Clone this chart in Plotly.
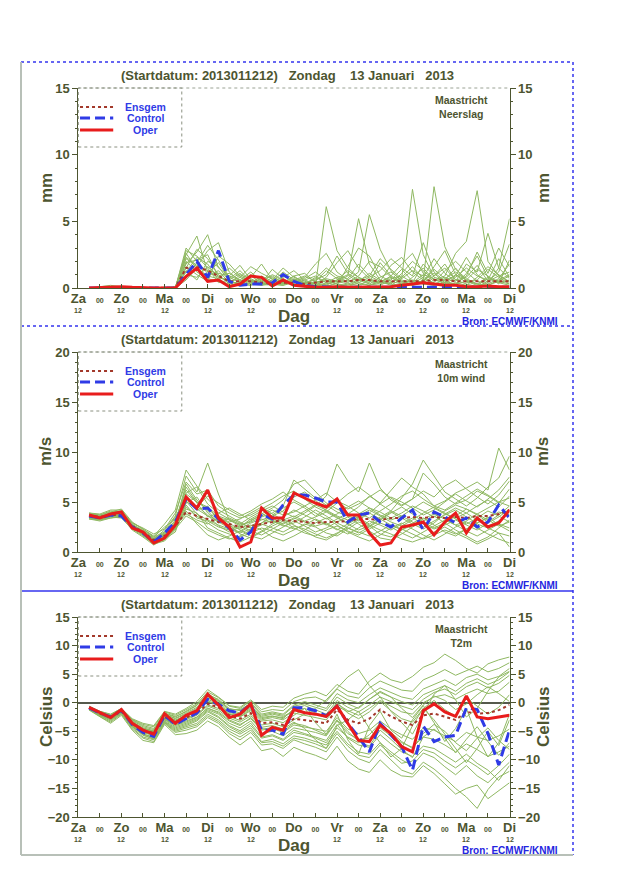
import plotly.graph_objects as go

# the page puts the figure 8px in from the top-left corner
PAGE_W, PAGE_H, BODY = 640, 880, 8
W, H = PAGE_W - BODY, PAGE_H - BODY

# forecast steps, hours after the start 2013-01-12 12 UTC
hours = list(range(6, 241, 6))
tick_hours = list(range(0, 241, 12))
day_names = ["Za", "Zo", "Ma", "Di", "Wo", "Do", "Vr", "Za", "Zo", "Ma", "Di"]

title_text = "(Startdatum: 2013011212)   Zondag    13 Januari   2013"
source_text = "Bron: ECMWF/KNMI"
legend_names = ["Ensgem", "Control", "Oper"]

# --- neerslag (mm)
rain_ensgem = [0, 0.02, 0.05, 0.03, 0, 0, 0, 0, 0.02, 1.5,
               1.6, 1.3, 0.9, 0.5, 0.5, 0.5, 0.4, 0.4, 0.4, 0.4,
               0.3, 0.4, 0.5, 0.5, 0.5, 0.6, 0.6, 0.5, 0.5, 0.5,
               0.5, 0.5, 0.6, 0.6, 0.5, 0.5, 0.5, 0.5, 0.5, 0.5]
rain_control = [0, 0, 0.05, 0.05, 0, 0, 0, 0, 0, 1.0,
                2.0, 0.8, 2.8, 0.5, 0.2, 0.3, 0.3, 0.4, 1.0, 0.5,
                0.2, 0.1, 0.05, 0.05, 0.05, 0.05, 0.05, 0.05, 0, 0,
                0, 0.05, 0.05, 0.05, 0, 0, 0, 0.05, 0.05, 0.05]
rain_oper = [0, 0.05, 0.1, 0.1, 0.05, 0, 0, 0, 0, 0.85,
             1.5, 0.5, 0.6, 0.1, 0.3, 0.9, 0.8, 0.15, 0.6, 0.2,
             0.1, 0.05, 0.05, 0.1, 0.05, 0.05, 0.05, 0.1, 0.1, 0.2,
             0.3, 0.4, 0.3, 0.2, 0.2, 0.1, 0.1, 0.15, 0.1, 0.1]
rain_members = [
    [0, 0.1, 0.2, 0.1, 0, 0, 0, 0, 0, 2.5, 3.9, 1.2, 0.8, 0.5, 0.3, 0.6, 0.4, 0.2, 0.5, 0.3,
     0.1, 0.2, 0.6, 0.3, 0.1, 0.4, 0.2, 0.5, 0.8, 0.3, 0.2, 0.6, 1.1, 0.4, 0.3, 0.5, 0.2, 0.7, 0.4, 0.6],
    [0, 0, 0.1, 0.1, 0, 0, 0, 0, 0, 1.8, 2.7, 4.0, 1.5, 0.9, 0.6, 1.2, 0.5, 0.3, 0.2, 0.6,
     0.4, 0.2, 6.1, 2.8, 1.5, 0.8, 0.3, 0.2, 0.6, 1.4, 0.5, 0.3, 0.2, 0.4, 1.0, 0.6, 0.3, 0.2, 0.5, 0.9],
    [0, 0, 0, 0, 0, 0, 0, 0, 0.1, 2.2, 1.6, 2.8, 3.4, 1.2, 0.5, 0.8, 1.8, 0.6, 0.4, 0.3,
     0.2, 0.1, 0.3, 0.5, 0.9, 5.2, 1.8, 0.6, 0.3, 0.2, 0.8, 1.5, 0.6, 0.4, 0.2, 1.1, 2.4, 0.8, 0.5, 0.3],
    [0, 0, 0, 0, 0, 0, 0, 0, 0, 1.2, 2.3, 1.8, 0.6, 1.5, 0.8, 0.4, 0.9, 0.5, 1.2, 0.6,
     0.3, 0.2, 0.1, 0.4, 0.6, 1.2, 5.5, 2.9, 1.3, 0.5, 0.2, 0.4, 0.9, 1.8, 0.6, 0.3, 0.1, 0.5, 1.2, 3.3],
    [0, 0, 0, 0, 0, 0, 0, 0, 0, 3.0, 2.0, 1.1, 1.9, 0.7, 1.3, 0.5, 0.3, 0.8, 0.4, 0.9,
     1.1, 0.4, 0.2, 0.1, 0.3, 0.6, 0.9, 2.2, 1.4, 0.7, 7.4, 2.5, 0.8, 0.6, 1.5, 0.5, 0.3, 0.8, 0.4, 0.2],
    [0, 0, 0, 0, 0, 0, 0, 0, 0, 2.6, 1.4, 0.9, 1.3, 0.4, 0.8, 1.6, 1.1, 0.7, 0.3, 0.5,
     0.8, 1.8, 2.6, 1.2, 0.6, 0.3, 0.2, 0.5, 1.7, 2.3, 1.2, 0.6, 7.6, 3.1, 1.4, 0.7, 0.3, 0.2, 0.6, 1.0],
    [0, 0, 0, 0, 0, 0, 0, 0, 0, 1.5, 2.9, 2.2, 1.0, 0.3, 0.5, 1.0, 0.6, 0.2, 0.8, 1.3,
     0.6, 0.3, 0.8, 1.9, 2.8, 1.5, 0.7, 0.4, 0.3, 1.1, 2.0, 1.3, 0.6, 0.9, 2.6, 3.5, 7.3, 2.0, 0.9, 0.5],
    [0, 0, 0, 0, 0, 0, 0, 0, 0, 0.8, 1.9, 3.2, 2.1, 0.8, 0.4, 0.2, 0.5, 1.0, 0.6, 0.2,
     0.1, 0.5, 1.3, 0.7, 0.4, 0.9, 2.0, 1.6, 0.8, 0.4, 0.3, 0.8, 2.2, 1.1, 0.5, 1.8, 1.2, 4.1, 1.5, 5.2],
    [0, 0, 0, 0, 0, 0, 0, 0, 0, 2.0, 1.2, 0.7, 0.5, 0.3, 1.0, 0.7, 0.3, 0.4, 0.9, 0.5,
     0.3, 0.8, 0.4, 0.2, 1.6, 3.0, 2.4, 0.9, 0.5, 0.3, 0.6, 0.4, 1.6, 2.8, 1.0, 0.4, 0.6, 1.4, 0.8, 0.3],
    [0, 0, 0, 0, 0, 0, 0, 0, 0, 1.0, 0.8, 1.6, 0.9, 1.1, 0.6, 0.3, 0.2, 0.6, 1.5, 0.8,
     0.5, 0.3, 0.2, 0.6, 1.0, 0.4, 0.8, 1.3, 2.2, 1.5, 0.9, 3.4, 1.2, 0.5, 0.3, 0.9, 2.7, 1.1, 3.0, 1.6],
    [0, 0, 0, 0, 0, 0, 0, 0, 0, 2.8, 2.4, 1.5, 0.4, 0.6, 0.2, 0.4, 0.7, 0.3, 0.2, 0.4,
     0.7, 1.2, 0.6, 0.3, 0.2, 0.5, 1.1, 0.6, 0.4, 0.8, 1.6, 0.7, 0.4, 1.3, 2.0, 1.2, 0.5, 0.3, 0.7, 1.8],
    [0, 0, 0, 0, 0, 0, 0, 0, 0, 1.6, 1.0, 0.5, 2.4, 1.8, 0.9, 0.5, 0.3, 0.2, 0.3, 0.7,
     0.4, 0.6, 1.0, 2.4, 1.1, 0.6, 0.3, 0.8, 1.2, 0.6, 0.4, 1.0, 0.7, 0.3, 0.8, 1.5, 0.9, 0.6, 2.2, 0.8],
    [0, 0, 0, 0, 0, 0, 0, 0, 0, 0.6, 1.5, 0.9, 0.7, 0.2, 0.4, 0.9, 0.4, 1.4, 0.7, 0.3,
     0.2, 0.4, 0.7, 0.5, 0.3, 0.2, 0.6, 0.4, 0.9, 1.8, 2.6, 1.1, 0.5, 0.8, 0.4, 0.2, 0.8, 1.6, 1.0, 0.4],
    [0, 0, 0, 0, 0, 0, 0, 0, 0, 2.3, 1.7, 1.3, 1.1, 0.9, 1.7, 0.6, 0.2, 0.3, 0.5, 0.2,
     0.6, 0.9, 0.4, 0.8, 0.5, 0.7, 0.4, 1.9, 0.9, 0.5, 0.3, 0.5, 1.4, 0.7, 1.2, 0.6, 1.4, 0.9, 0.3, 2.1],
    [0, 0, 0, 0, 0, 0, 0, 0, 0, 1.3, 0.6, 2.0, 1.6, 0.5, 0.3, 0.2, 0.8, 0.4, 0.3, 0.9,
     0.3, 0.7, 1.5, 0.9, 0.7, 1.8, 0.9, 0.5, 0.2, 0.7, 1.3, 0.9, 0.3, 0.6, 0.9, 2.3, 1.0, 0.4, 1.5, 0.7],
    [0, 0, 0, 0, 0, 0, 0, 0, 0, 1.9, 2.1, 2.5, 0.8, 0.6, 1.1, 0.3, 0.6, 0.9, 0.4, 0.6,
     0.9, 0.5, 0.3, 0.6, 1.3, 0.8, 0.5, 0.3, 0.7, 0.9, 0.4, 1.8, 0.9, 1.5, 0.6, 0.8, 1.7, 0.5, 0.9, 1.2],
]

# --- 10m wind (m/s)
wind_ensgem = [3.6, 3.5, 3.7, 3.7, 2.6, 2.0, 1.2, 1.6, 2.6, 4.0,
               3.6, 3.3, 3.0, 2.8, 2.5, 2.6, 2.8, 3.0, 3.2, 3.1,
               3.0, 2.9, 3.0, 3.0, 3.1, 3.3, 3.3, 3.2, 3.4, 3.4,
               3.5, 3.4, 3.5, 3.4, 3.5, 3.4, 3.6, 3.6, 3.8, 4.2]
wind_control = [3.6, 3.4, 3.7, 3.6, 2.5, 1.9, 1.0, 1.9, 3.0, 5.3,
                4.3, 4.4, 3.3, 2.4, 1.2, 2.0, 3.8, 3.3, 4.7, 5.7,
                5.7, 5.4, 5.0, 5.0, 3.0, 3.7, 3.9, 3.0, 2.5, 3.4,
                4.2, 2.2, 4.0, 3.5, 2.9, 3.4, 2.5, 3.0, 4.7, 3.4]
wind_oper = [3.7, 3.4, 3.8, 4.0, 2.4, 2.0, 0.9, 1.4, 2.7, 5.5,
             4.4, 6.2, 3.4, 2.5, 0.5, 1.0, 4.4, 3.4, 3.4, 5.9,
             5.4, 4.9, 4.5, 5.3, 3.7, 3.7, 1.9, 0.7, 0.9, 2.5,
             2.7, 3.0, 1.7, 3.0, 3.9, 1.9, 3.4, 2.5, 2.9, 4.2]
wind_members = [
    [3.8, 3.6, 3.9, 4.1, 2.8, 2.1, 1.3, 2.2, 3.6, 7.6, 6.0, 8.9, 5.8, 3.2, 2.6, 3.1, 3.8, 4.4, 5.2, 6.8,
     7.2, 6.1, 4.9, 4.3, 3.8, 4.5, 5.6, 4.9, 6.2, 7.4, 6.5, 5.8, 4.6, 5.1, 5.9, 6.4, 7.0, 6.2, 10.4, 8.2],
    [3.5, 3.3, 3.6, 3.8, 2.5, 1.8, 0.9, 1.4, 2.9, 6.8, 5.2, 4.1, 3.0, 2.4, 2.0, 2.6, 3.2, 3.6, 4.1, 5.5,
     6.0, 5.2, 4.1, 3.5, 2.8, 2.2, 2.6, 3.3, 4.0, 3.4, 2.8, 2.3, 2.9, 3.8, 4.4, 3.9, 3.2, 2.6, 3.1, 4.0],
    [3.9, 3.7, 4.0, 4.3, 3.0, 2.3, 1.6, 2.8, 4.2, 8.2, 6.6, 5.3, 4.2, 3.6, 3.0, 2.4, 2.9, 3.4, 2.8, 3.3,
     3.9, 4.6, 5.6, 8.8, 7.1, 6.0, 8.9, 6.4, 5.2, 4.6, 5.3, 7.9, 6.8, 5.5, 4.8, 5.2, 6.1, 5.6, 4.9, 6.3],
    [3.4, 3.2, 3.5, 3.4, 2.3, 1.6, 0.8, 1.1, 2.2, 4.5, 3.6, 2.9, 2.2, 1.8, 1.5, 1.9, 2.4, 2.1, 1.7, 2.2,
     2.8, 2.5, 1.9, 1.6, 2.3, 3.0, 2.6, 1.8, 1.5, 2.2, 2.9, 3.4, 2.7, 2.0, 1.6, 2.3, 2.9, 3.5, 2.7, 2.1],
    [3.6, 3.5, 3.8, 3.9, 2.7, 2.2, 1.5, 2.5, 3.3, 5.9, 6.5, 4.8, 3.9, 3.3, 2.7, 3.0, 3.5, 3.9, 4.6, 7.2,
     6.3, 5.4, 4.7, 4.0, 3.6, 3.2, 3.9, 4.8, 5.5, 5.0, 4.4, 3.7, 4.2, 5.0, 5.8, 5.1, 4.5, 5.3, 6.2, 7.5],
    [3.7, 3.4, 3.6, 3.6, 2.6, 2.0, 1.1, 1.7, 2.6, 3.8, 3.2, 2.8, 3.4, 2.9, 2.2, 1.6, 1.3, 1.9, 2.5, 3.1,
     2.6, 2.0, 2.4, 3.0, 3.5, 2.8, 2.1, 1.4, 1.2, 1.8, 2.5, 3.1, 3.6, 2.9, 2.2, 1.6, 1.0, 1.5, 2.4, 3.2],
    [3.3, 3.1, 3.4, 3.5, 2.2, 1.5, 0.7, 1.3, 2.0, 5.0, 4.6, 3.7, 2.6, 2.0, 2.5, 3.3, 3.9, 3.1, 2.6, 2.9,
     3.5, 4.2, 3.6, 2.9, 2.4, 1.9, 2.5, 3.2, 3.9, 4.5, 3.8, 3.0, 2.4, 2.9, 3.6, 4.3, 3.7, 3.0, 3.7, 4.6],
    [3.8, 3.7, 4.1, 4.0, 2.9, 2.4, 1.8, 2.3, 3.9, 7.0, 5.8, 6.2, 4.6, 3.9, 3.4, 3.7, 4.3, 4.9, 5.6, 6.1,
     5.3, 4.5, 4.0, 4.9, 5.8, 6.5, 5.7, 4.8, 4.1, 5.4, 6.8, 9.2, 7.6, 6.0, 5.3, 4.6, 5.4, 6.5, 7.4, 9.6],
    [3.5, 3.3, 3.7, 3.6, 2.4, 1.9, 1.0, 1.5, 2.4, 4.1, 2.8, 1.7, 1.2, 1.6, 2.1, 2.7, 2.2, 1.5, 1.1, 1.6,
     2.2, 2.9, 3.4, 2.7, 2.0, 1.5, 1.1, 1.7, 2.4, 2.9, 2.3, 1.7, 1.2, 1.8, 2.5, 3.0, 2.4, 1.8, 1.3, 0.9],
    [3.6, 3.6, 3.9, 3.8, 2.6, 2.1, 1.4, 1.9, 3.1, 6.2, 4.9, 3.5, 3.9, 4.4, 3.8, 3.2, 3.6, 4.2, 3.7, 4.0,
     4.6, 3.9, 3.3, 3.8, 4.5, 5.1, 4.4, 3.7, 3.2, 3.6, 4.3, 5.0, 4.4, 3.8, 3.4, 3.9, 4.6, 5.2, 4.5, 5.6],
    [3.4, 3.3, 3.5, 3.7, 2.5, 1.7, 0.9, 1.2, 2.6, 5.6, 4.2, 4.6, 3.1, 2.7, 1.8, 1.4, 2.0, 2.6, 3.1, 2.4,
     1.9, 1.6, 2.2, 2.6, 2.1, 1.7, 2.3, 2.9, 2.5, 1.9, 1.4, 2.0, 2.6, 3.2, 2.7, 2.1, 1.6, 2.2, 2.8, 2.4],
    [3.7, 3.5, 3.8, 3.9, 2.7, 2.0, 1.2, 1.8, 2.8, 4.9, 5.5, 3.9, 2.9, 3.4, 2.9, 2.4, 2.9, 3.7, 4.4, 5.0,
     4.4, 3.6, 4.3, 5.1, 4.6, 3.9, 3.4, 4.1, 4.8, 5.6, 6.1, 5.3, 4.6, 4.2, 4.9, 5.6, 6.3, 5.7, 5.0, 5.4],
    [3.6, 3.4, 3.7, 3.8, 2.6, 2.1, 1.3, 1.6, 2.3, 4.3, 3.9, 2.4, 1.9, 1.4, 1.0, 1.5, 2.1, 2.8, 3.3, 2.7,
     2.1, 1.5, 1.2, 1.8, 2.6, 3.2, 2.7, 2.2, 1.8, 1.3, 1.0, 1.4, 2.0, 2.5, 1.9, 1.4, 0.8, 1.3, 1.9, 0.5],
    [3.5, 3.6, 3.8, 3.5, 2.6, 1.9, 1.1, 1.7, 3.0, 6.5, 5.0, 4.3, 3.5, 3.0, 3.3, 3.9, 4.5, 3.8, 3.2, 3.6,
     3.1, 3.5, 4.0, 3.4, 2.9, 3.6, 4.2, 3.6, 3.0, 2.6, 3.2, 3.9, 4.5, 3.9, 3.3, 2.8, 3.4, 4.1, 3.6, 3.0],
    [3.9, 3.8, 4.2, 4.2, 2.9, 2.3, 1.5, 2.0, 3.5, 5.4, 4.5, 5.6, 4.9, 4.2, 3.6, 4.1, 4.8, 5.3, 6.0, 5.2,
     4.6, 5.2, 5.9, 5.0, 4.3, 4.8, 5.5, 6.2, 5.4, 4.7, 5.3, 6.1, 5.5, 6.6, 7.2, 6.3, 5.5, 4.8, 5.7, 7.1],
    [3.3, 3.2, 3.4, 3.6, 2.4, 1.8, 1.0, 1.4, 2.5, 4.7, 3.4, 3.1, 2.5, 2.2, 2.6, 2.1, 1.7, 2.3, 2.9, 3.4,
     3.0, 2.6, 2.9, 2.3, 1.8, 2.4, 3.1, 2.7, 2.2, 2.8, 3.4, 2.8, 2.3, 2.7, 3.2, 2.7, 2.2, 2.9, 3.5, 4.3],
    [3.7, 3.5, 3.8, 3.8, 2.6, 2.0, 1.2, 1.9, 3.2, 5.6, 4.3, 3.6, 3.1, 2.6, 2.3, 2.9, 3.3, 2.9, 3.5, 4.2,
     3.7, 3.2, 2.7, 3.3, 3.9, 3.4, 2.8, 3.5, 4.1, 3.6, 3.0, 2.5, 3.1, 3.7, 4.2, 3.5, 2.9, 3.4, 4.0, 3.7],
    [3.5, 3.4, 3.6, 3.7, 2.5, 1.9, 1.1, 1.5, 2.7, 5.1, 3.8, 3.2, 2.7, 2.3, 1.9, 2.3, 2.7, 3.2, 2.7, 2.3,
     2.7, 3.3, 2.8, 2.2, 2.8, 3.4, 3.9, 3.3, 2.7, 2.2, 2.7, 3.3, 3.8, 3.3, 2.7, 3.1, 3.8, 3.2, 2.6, 3.0],
    [3.6, 3.5, 3.9, 3.8, 2.7, 2.1, 1.3, 1.8, 2.9, 5.8, 5.0, 4.5, 3.6, 3.2, 2.8, 3.5, 4.1, 4.6, 4.0, 3.5,
     4.1, 4.7, 4.2, 3.6, 3.2, 3.8, 4.4, 4.0, 3.4, 3.9, 4.6, 4.1, 3.5, 4.1, 4.7, 4.3, 3.8, 4.4, 5.0, 4.6],
    [3.4, 3.3, 3.6, 3.6, 2.4, 1.7, 0.9, 1.3, 2.3, 3.6, 3.0, 2.2, 1.7, 1.3, 1.6, 2.2, 2.8, 2.4, 2.0, 2.6,
     2.3, 1.8, 1.4, 1.9, 2.4, 2.0, 1.6, 2.1, 2.7, 2.3, 1.8, 1.3, 1.7, 2.2, 1.8, 2.3, 2.8, 2.4, 1.9, 1.6],
]

# --- T2m (Celsius)
temp_ensgem = [-0.9, -1.9, -2.6, -1.5, -3.6, -4.8, -5.3, -2.5, -3.4, -2.6,
               -1.8, -0.2, -0.8, -2.2, -2.8, -1.8, -3.6, -3.4, -3.9, -2.8,
               -3.0, -3.3, -3.6, -1.2, -3.0, -3.6, -2.8, -1.2, -2.4, -3.3,
               -3.9, -2.2, -1.9, -2.5, -3.0, -1.6, -1.9, -1.8, -1.3, -0.4]
temp_control = [-0.9, -1.8, -2.5, -1.3, -3.8, -5.2, -5.9, -2.2, -3.8, -2.8,
                -1.8, 0.6, -0.3, -1.4, -1.8, -0.3, -4.8, -4.8, -5.5, -0.9,
                -0.9, -1.4, -2.3, -0.6, -3.6, -6.0, -8.6, -3.6, -5.7, -7.7,
                -11.8, -4.1, -6.8, -6.0, -5.7, -0.9, -1.2, -5.4, -10.9, -4.8]
temp_oper = [-0.8, -1.75, -2.6, -1.2, -3.6, -4.8, -5.5, -1.9, -3.6, -2.2,
             -1.4, 1.5, -0.4, -2.6, -2.0, -0.2, -5.7, -4.3, -4.8, -1.2,
             -1.75, -2.0, -2.4, -0.6, -3.6, -6.6, -6.8, -3.9, -5.4, -7.7,
             -8.6, -1.4, -0.2, -1.6, -2.4, 1.2, -2.5, -2.8, -2.5, -2.2]
temp_members = [
    [-0.6, -1.5, -2.0, -1.0, -2.8, -3.6, -4.0, -1.5, -2.0, -1.0, 0.2, 2.3, 1.0, -0.5, -0.8, 0.5, -1.2, -0.6, -0.8, 0.8,
     1.5, 2.0, 1.2, 3.2, 2.0, 1.5, 3.8, 5.2, 4.0, 3.5, 4.6, 6.2, 7.0, 8.5, 7.4, 6.0, 5.2, 6.8, 7.5, 8.0],
    [-1.2, -2.4, -3.4, -2.0, -4.6, -6.2, -6.8, -3.6, -5.2, -4.8, -4.2, -2.6, -3.6, -5.4, -6.5, -5.2, -7.4, -7.2, -8.0, -6.5,
     -7.2, -7.8, -8.6, -6.0, -8.4, -9.8, -10.5, -8.2, -10.0, -11.8, -12.5, -10.4, -11.6, -13.2, -15.0, -16.5, -18.5, -15.2, -13.0, -12.0],
    [-0.8, -1.8, -2.4, -1.3, -3.2, -4.5, -5.0, -2.0, -2.8, -2.0, -1.0, 0.8, 0.2, -1.5, -2.0, -0.8, -2.6, -2.3, -2.8, -1.0,
     -0.5, -1.2, -2.0, 0.4, -0.8, -1.6, -0.4, 1.0, 0.2, -0.6, -1.2, 0.6, 1.8, 2.4, 1.4, 2.8, 3.6, 2.6, 3.4, 4.8],
    [-1.0, -2.1, -2.9, -1.8, -4.2, -5.5, -6.0, -3.2, -4.4, -3.8, -3.0, -1.4, -2.4, -4.0, -4.9, -3.6, -6.0, -5.6, -6.4, -4.8,
     -5.4, -6.0, -6.6, -3.8, -6.2, -7.4, -7.8, -5.6, -7.2, -8.6, -9.4, -7.6, -8.0, -9.2, -10.4, -9.0, -10.6, -11.8, -13.6, -11.0],
    [-0.9, -1.7, -2.5, -1.4, -3.5, -4.6, -5.2, -2.2, -3.0, -2.4, -1.6, 0.2, -0.4, -1.9, -2.5, -1.4, -3.2, -3.0, -3.5, -2.2,
     -1.0, -3.5, -5.5, -2.0, -6.5, -9.0, -4.0, -1.5, -4.8, -6.2, -3.0, -0.5, -3.5, -6.8, -4.5, -1.0, -6.0, -9.5, -7.0, -2.0],
    [-1.1, -2.0, -2.8, -1.6, -3.9, -5.2, -5.8, -2.9, -3.9, -3.2, -2.5, -1.0, -1.6, -3.0, -3.8, -2.8, -4.8, -4.5, -5.2, -3.9,
     -4.2, -4.6, -5.0, -2.6, -4.6, -5.4, -4.8, -3.2, -4.6, -5.6, -6.4, -4.4, -4.8, -5.8, -6.8, -5.2, -6.0, -6.6, -5.8, -4.6],
    [-0.7, -1.6, -2.2, -1.1, -3.0, -4.0, -4.5, -1.8, -2.4, -1.6, -0.5, 1.4, 0.6, -1.0, -1.4, 0.0, -2.0, -1.6, -2.0, -0.4,
     0.2, -0.4, -1.0, 1.6, 0.5, 0.0, 1.4, 2.6, 1.8, 1.0, 0.6, 2.4, 3.2, 4.0, 3.0, 4.4, 5.0, 4.0, 4.6, 6.0],
    [-1.0, -2.2, -3.0, -1.7, -4.0, -5.6, -6.4, -3.4, -4.8, -4.2, -3.6, -2.0, -3.0, -4.6, -5.5, -4.4, -6.8, -6.4, -7.2, -5.8,
     -6.2, -6.8, -7.4, -5.0, -7.2, -8.6, -9.0, -7.0, -8.6, -10.0, -11.0, -8.8, -9.6, -11.2, -12.6, -11.0, -12.8, -14.0, -12.2, -10.4],
    [-0.8, -1.9, -2.7, -1.5, -3.7, -4.9, -5.4, -2.6, -3.5, -2.8, -2.0, -0.4, -1.0, -2.4, -3.1, -2.0, -3.9, -3.6, -4.2, -3.0,
     -2.0, -1.0, 0.5, 2.5, 4.5, 5.8, 3.0, 1.0, -1.5, -3.5, -5.5, -2.0, 1.5, 3.0, 0.5, -2.5, -1.0, 2.0, 4.5, 5.5],
    [-0.9, -1.8, -2.6, -1.4, -3.4, -4.4, -4.9, -2.1, -2.7, -1.8, -0.8, 1.0, 0.4, -1.2, -1.8, -0.6, -2.4, -2.0, -2.4, -1.4,
     -1.6, -2.0, -2.6, -0.2, -1.4, -2.2, -1.0, 0.4, -0.6, -1.6, -2.0, 0.0, 1.0, 1.4, 0.6, 1.6, 2.4, 1.6, 2.0, 3.6],
    [-1.0, -2.0, -2.7, -1.6, -3.8, -5.0, -5.6, -2.7, -3.7, -3.0, -2.2, -0.6, -1.3, -2.7, -3.4, -2.3, -4.3, -4.0, -4.6, -3.4,
     -4.5, -6.5, -8.0, -4.0, -3.0, -1.5, -4.5, -7.0, -9.5, -8.0, -4.0, -1.0, -3.0, -5.5, -8.0, -10.5, -8.0, -5.0, -7.5, -3.0],
    [-1.3, -2.5, -3.6, -2.2, -4.8, -6.6, -7.0, -3.8, -5.6, -5.4, -4.8, -3.2, -4.2, -6.0, -7.4, -6.0, -8.4, -8.0, -9.4, -7.8,
     -8.6, -9.2, -10.0, -7.6, -10.2, -11.6, -12.2, -10.0, -11.8, -12.8, -13.0, -11.0, -12.4, -14.2, -16.0, -15.0, -14.4, -16.8, -15.4, -14.0],
    [-0.7, -1.5, -2.1, -1.0, -2.9, -3.8, -4.2, -1.6, -2.2, -1.2, -0.2, 1.9, 0.9, -0.6, -1.0, 0.3, -1.6, -1.2, -1.4, 0.2,
     0.8, 1.0, 0.2, 2.4, 1.2, 0.8, 2.6, 3.8, 3.0, 2.2, 2.0, 4.0, 4.8, 5.8, 4.8, 5.6, 6.4, 5.4, 6.0, 7.0],
    [-1.1, -2.2, -2.9, -1.7, -4.1, -5.4, -6.2, -3.0, -4.2, -3.6, -2.8, -1.2, -2.0, -3.6, -4.4, -3.2, -5.4, -5.0, -5.8, -4.4,
     -4.8, -5.2, -5.8, -3.2, -5.4, -6.4, -6.2, -4.4, -5.8, -7.0, -7.8, -6.0, -6.4, -7.4, -8.6, -7.2, -8.2, -9.4, -8.6, -7.6],
    [-0.8, -1.7, -2.3, -1.2, -3.1, -4.2, -4.7, -1.9, -2.5, -1.4, -0.4, 1.6, 0.4, -1.2, -1.2, -0.2, -2.2, -1.8, -2.2, -0.6,
     -0.2, -0.8, -1.4, 1.0, -0.2, -1.0, 0.6, 1.8, 1.0, 0.2, -0.4, 1.4, 2.2, 3.0, 2.0, 3.4, 4.2, 3.2, 4.0, 5.4],
    [-1.2, -2.3, -3.2, -1.9, -4.4, -6.0, -6.5, -3.5, -5.0, -4.5, -3.9, -2.3, -3.3, -5.0, -6.0, -4.8, -7.0, -6.8, -7.6, -6.2,
     -6.6, -7.2, -8.0, -5.4, -7.6, -9.2, -9.6, -7.4, -9.0, -10.6, -10.2, -8.2, -8.8, -10.2, -11.4, -10.0, -11.2, -12.6, -11.0, -9.0],
    [-0.9, -1.9, -2.7, -1.4, -3.6, -4.7, -5.1, -2.3, -3.2, -2.3, -1.4, 0.4, -0.6, -2.0, -2.4, -1.2, -3.0, -2.6, -3.0, -1.8,
     -2.2, -2.6, -3.0, -0.6, -1.6, -0.8, 0.6, 2.0, 1.0, -1.0, -2.6, -0.4, 1.2, 0.4, -1.2, -0.2, 1.4, 2.8, 1.6, 0.2],
    [-1.0, -2.0, -2.8, -1.7, -3.9, -5.1, -5.7, -2.8, -4.0, -3.4, -2.6, -0.9, -1.8, -3.2, -4.0, -2.6, -4.6, -4.4, -5.0, -3.6,
     -4.0, -4.8, -5.6, -3.0, -5.0, -6.8, -7.6, -4.8, -6.4, -8.2, -9.6, -6.0, -4.6, -6.2, -8.8, -6.4, -4.2, -6.8, -9.2, -7.0],
    [-0.8, -1.8, -2.5, -1.3, -3.4, -4.5, -5.0, -2.2, -3.1, -2.2, -1.3, 0.6, -0.2, -1.7, -2.2, -1.0, -2.8, -2.4, -2.6, -1.4,
     -1.0, -1.8, -2.4, 0.0, -1.8, -2.8, -1.6, 0.2, -1.4, -2.8, -3.4, -1.0, 0.4, -1.2, -2.4, 0.8, -0.6, -2.0, -0.8, 1.4],
    [-1.1, -2.1, -3.0, -1.8, -4.2, -5.7, -6.3, -3.3, -4.6, -4.0, -3.2, -1.6, -2.6, -4.2, -5.2, -4.0, -6.2, -5.8, -6.6, -5.2,
     -5.6, -6.2, -7.0, -4.4, -6.0, -7.0, -5.6, -3.6, -5.2, -6.8, -8.0, -5.4, -3.8, -5.0, -7.0, -8.4, -6.2, -4.4, -6.6, -8.2],
]

# colours
DARK = "#4d5530"
GREEN = "#8fb862"
RED = "#e81c1c"
BLUE = "#2f3be6"
ENS = "#a3382a"
FRAME_BLUE = "#3434ee"
FRAME_GREY = "#b8c0b8"
FONT = "Liberation Sans, Arial, sans-serif"

# pixel geometry of the page (plot area left/right, top of each plot area)
X0, X1 = 78.3, 509.5
PLOT_H = 200
tops = [88, 352, 617]


def px(x):
    return (x - BODY) / W


def py(y):
    return 1 - (y - BODY) / H


nb = lambda s: s.replace(" ", "\u00a0")

# day names at 12 UTC, "00" at midnight
tick_text = [day_names[h // 24] if h % 24 == 0 else "<span style='font-size:7px'>00</span>" for h in tick_hours]

fig = go.Figure()


def note(text, x, y, size, color=DARK, bold=True, **kw):
    # page text placed in page pixels, always centred on the point
    fig.add_annotation(text=text, xref="paper", yref="paper", x=px(x), y=py(y), showarrow=False,
                       xanchor="center", yanchor="middle",
                       font=dict(family=FONT, size=size, color=color, weight="bold" if bold else "normal"), **kw)  # fmt: off


def add_panel(k, top, members, ensgem, control, oper, yrange, ytitle, station, zero=False):
    xid = "x" if k == 1 else f"x{k}"
    yid = "y" if k == 1 else f"y{k}"
    yrid = f"y{k + 3}"

    # --members
    for m in members:
        fig.add_trace(go.Scatter(x=hours[:len(m)], y=m, mode="lines", line=dict(color=GREEN, width=1),
                                 xaxis=xid, yaxis=yid, showlegend=False, hoverinfo="skip"))  # fmt: off
    # --ensgem, control, oper
    fig.add_trace(go.Scatter(x=hours, y=ensgem, name="Ensgem", mode="lines", line=dict(color=ENS, width=2, dash="dot"), xaxis=xid, yaxis=yid))  # fmt: off
    fig.add_trace(go.Scatter(x=hours, y=control, name="Control", mode="lines", line=dict(color=BLUE, width=3, dash="10px,5px"), xaxis=xid, yaxis=yid))  # fmt: off
    fig.add_trace(go.Scatter(x=hours, y=oper, name="Oper", mode="lines", line=dict(color=RED, width=3), xaxis=xid, yaxis=yid))  # fmt: off
    # empty trace so the right axis is drawn
    fig.add_trace(go.Scatter(x=[], y=[], xaxis=xid, yaxis=yrid, showlegend=False, hoverinfo="skip"))

    ydom = [py(top + PLOT_H), py(top)]
    tickfont = dict(family=FONT, size=13, color=DARK, weight="bold")
    yax = dict(domain=ydom, anchor=xid, range=yrange, dtick=5, tick0=0, showgrid=False, automargin=False,
               showline=True, linecolor=DARK, linewidth=1, ticks="outside", ticklen=5, tickcolor=DARK,
               minor=dict(dtick=1, ticks="outside", ticklen=2, tickcolor=DARK),
               tickfont=tickfont, zeroline=zero, zerolinecolor="#55594c", zerolinewidth=2)
    yrax = dict(yax, overlaying=yid, side="right", zeroline=False)
    yrax.pop("domain")
    xax = dict(domain=[px(X0), px(X1)], anchor=yid, range=[0, 240], tickmode="array", automargin=False,
               tickvals=tick_hours, ticktext=tick_text, showgrid=False, zeroline=False,
               showline=True, linecolor=DARK, linewidth=1, ticks="inside", ticklen=4, tickcolor=DARK,
               tickfont=tickfont, tickangle=0, ticklabelstandoff=-2)

    fig.layout["xaxis" if k == 1 else f"xaxis{k}"] = xax
    fig.layout["yaxis" if k == 1 else f"yaxis{k}"] = yax
    fig.layout[f"yaxis{k + 3}"] = yrax

    xd = "x domain" if k == 1 else f"x{k} domain"
    yd = "y domain" if k == 1 else f"y{k} domain"

    # small "12" under each day name (not under Do, where "Dag" sits)
    for h in tick_hours[::2]:
        if h != 120:
            fig.add_annotation(text="12", xref=xid, yref="paper", x=h, y=py(top + PLOT_H + 22.5), showarrow=False,
                               xanchor="center", yanchor="middle", borderpad=0,
                               font=dict(family=FONT, size=7, color=DARK, weight="bold"))  # fmt: off

    # dotted top edge of the plot area and the legend box
    fig.add_shape(type="line", xref=xd, yref=yd, x0=0, x1=1, y0=1, y1=1, line=dict(color="#9aa294", width=1, dash="dot"))  # fmt: off
    fig.add_shape(type="rect", xref=xd, yref=yd, x0=0, x1=0.24, y0=0.705, y1=1, line=dict(color="#8a9080", width=1, dash="dot"))  # fmt: off

    # legend samples and labels
    styles = [dict(color=ENS, width=2, dash="dot"), dict(color=BLUE, width=3, dash="10px,5px"), dict(color=RED, width=3)]
    for j, (name, st) in enumerate(zip(legend_names, styles)):
        yy = [0.905, 0.85, 0.79][j]
        fig.add_shape(type="line", xref=xd, yref=yd, x0=0.004, x1=0.081, y0=yy, y1=yy, line=st)
        fig.add_annotation(text=name, xref=xd, yref=yd, x=0.157, y=yy, showarrow=False, xanchor="center", yanchor="middle",
                           font=dict(family=FONT, size=10.5, color=BLUE, weight="bold"))  # fmt: off

    # texts around the panel
    note(nb(title_text), 287, top - 13, 13)
    note(station, 461, top + 18.5, 10.5, align="center")
    note(source_text, 510, top + 233, 10, color="#2424e0", borderpad=0)
    note("Dag", 294, top + 228, 17, borderpad=0)
    note(ytitle, 46, top + 100, 17, textangle=-90)
    note(ytitle, 543, top + 100, 17, textangle=-90)


add_panel(1, tops[0], rain_members, rain_ensgem, rain_control, rain_oper, [0, 15], "mm", "Maastricht<br>Neerslag")
add_panel(2, tops[1], wind_members, wind_ensgem, wind_control, wind_oper, [0, 20], "m/s", "Maastricht<br>10m wind")
add_panel(3, tops[2], temp_members, temp_ensgem, temp_control, temp_oper, [-20, 15], "Celsius", "Maastricht<br>T2m", zero=True)

# --page frames round the three panels
frame = [
    (21, 62, 573, 62, FRAME_BLUE, "dot"),
    (573, 62, 573, 855, FRAME_BLUE, "dot"),
    (21, 326, 573, 326, FRAME_BLUE, "dot"),
    (21, 591, 573, 591, FRAME_BLUE, "solid"),
    (21, 855, 573, 855, FRAME_GREY, "solid"),
    (21, 62, 21, 855, FRAME_GREY, "solid"),
]
for x0, y0, x1, y1, c, d in frame:
    fig.add_shape(type="line", xref="paper", yref="paper", x0=px(x0), y0=py(y0), x1=px(x1), y1=py(y1),
                  line=dict(color=c, width=2 if c == FRAME_GREY else 1.5, dash=d))  # fmt: off

fig.update_layout(width=W, height=H, margin=dict(l=0, r=0, t=0, b=0, autoexpand=False), showlegend=False,
                  paper_bgcolor="white", plot_bgcolor="white", font=dict(family=FONT, color=DARK))  # fmt: off

fig.write_html("out.html")
